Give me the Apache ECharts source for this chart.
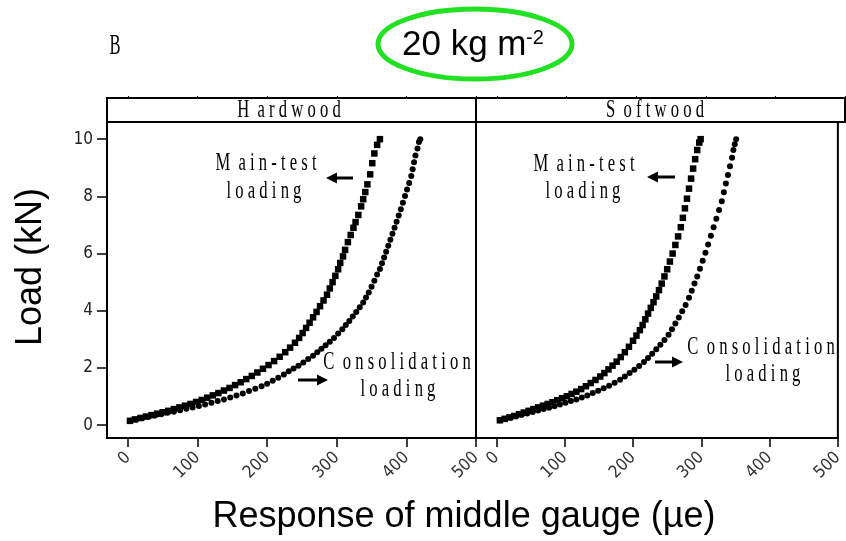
<!DOCTYPE html>
<html>
<head>
<meta charset="utf-8">
<title>20 kg m-2</title>
<script src="https://cdn.jsdelivr.net/npm/echarts@6/dist/echarts.min.js"></script>
<style>
  html, body { margin: 0; padding: 0; background: #fff; }
  #chart { width: 846px; height: 541px; }
</style>
</head>
<body>
<div id="chart"></div>
<script>
// tick labels
const xTicks = [0, 100, 200, 300, 400, 500];
const yTicks = [0, 2, 4, 6, 8, 10];
const panels = ['Hardwood', 'Softwood'];

// [response (µe), load (kN)]
const hardwoodMain = [
  [3, 0.15], [10, 0.2], [18, 0.25], [26, 0.3], [34, 0.35], [42, 0.4], [50, 0.45], [58, 0.5],
  [66, 0.56], [74, 0.62], [82, 0.68], [90, 0.74], [98, 0.81], [106, 0.88], [114, 0.96], [122, 1.04],
  [130, 1.12], [138, 1.21], [146, 1.3], [154, 1.4], [162, 1.5], [170, 1.61], [178, 1.72], [186, 1.84],
  [194, 1.97], [202, 2.1], [210, 2.24], [218, 2.39], [226, 2.55], [233, 2.71], [240, 2.88], [246, 3.05],
  [251, 3.22], [256, 3.4], [261, 3.58], [266, 3.77], [271, 3.96], [276, 4.16], [281, 4.36], [286, 4.56],
  [290, 4.78], [294, 5.0], [298, 5.22], [302, 5.45], [305, 5.67], [309, 5.9], [312, 6.13], [316, 6.4],
  [320, 6.65], [324, 6.9], [327, 7.1], [331, 7.35], [335, 7.65], [338, 7.9], [341, 8.15], [344, 8.42],
  [348, 8.77], [351, 9.16], [354, 9.5], [358, 9.8], [362, 10.0]
];
const hardwoodConsol = [
  [3, 0.15], [12, 0.2], [21, 0.25], [30, 0.29], [39, 0.34], [48, 0.38], [57, 0.43], [66, 0.47],
  [75, 0.52], [84, 0.57], [93, 0.62], [102, 0.67], [111, 0.72], [120, 0.78], [129, 0.84], [138, 0.9],
  [147, 0.97], [156, 1.04], [165, 1.11], [174, 1.19], [183, 1.27], [192, 1.36], [200, 1.45], [208, 1.55],
  [216, 1.66], [224, 1.77], [231, 1.88], [238, 1.98], [245, 2.08], [252, 2.19], [259, 2.31], [266, 2.43],
  [272, 2.55], [278, 2.67], [284, 2.79], [290, 2.92], [296, 3.05], [302, 3.2], [308, 3.35], [313, 3.5],
  [318, 3.64], [323, 3.8], [328, 3.96], [333, 4.12], [338, 4.29], [342, 4.46], [346, 4.64], [350, 4.84],
  [354, 5.05], [358, 5.27], [362, 5.46], [365, 5.66], [368, 5.86], [371, 6.06], [374, 6.27], [377, 6.48],
  [380, 6.69], [383, 6.9], [386, 7.11], [389, 7.33], [392, 7.55], [395, 7.78], [398, 8.01], [401, 8.24],
  [404, 8.47], [407, 8.71], [409, 8.95], [411, 9.19], [413, 9.43], [416, 9.67], [418, 9.9], [420, 10.0]
];
const softwoodMain = [
  [5, 0.17], [12, 0.22], [19, 0.27], [26, 0.32], [33, 0.38], [40, 0.44], [47, 0.5], [54, 0.56],
  [61, 0.62], [68, 0.68], [75, 0.74], [82, 0.8], [89, 0.87], [96, 0.94], [103, 1.01], [110, 1.09],
  [117, 1.17], [124, 1.26], [131, 1.36], [138, 1.47], [145, 1.58], [152, 1.7], [158, 1.82], [164, 1.95],
  [170, 2.08], [176, 2.22], [182, 2.38], [188, 2.55], [194, 2.74], [200, 2.95], [205, 3.13], [210, 3.32],
  [214, 3.5], [218, 3.7], [222, 3.9], [226, 4.1], [230, 4.3], [234, 4.5], [238, 4.72], [242, 4.95],
  [246, 5.2], [250, 5.45], [254, 5.72], [258, 6.0], [262, 6.3], [266, 6.6], [270, 6.92], [273, 7.25],
  [276, 7.58], [279, 7.92], [282, 8.27], [285, 8.62], [288, 8.97], [291, 9.3], [294, 9.62], [297, 9.88],
  [299, 10.0]
];
const softwoodConsol = [
  [5, 0.17], [13, 0.22], [21, 0.27], [29, 0.31], [37, 0.36], [45, 0.41], [53, 0.46], [61, 0.51],
  [69, 0.56], [77, 0.61], [85, 0.66], [93, 0.72], [101, 0.78], [109, 0.84], [117, 0.9], [125, 0.97],
  [133, 1.04], [141, 1.12], [149, 1.2], [157, 1.29], [165, 1.38], [173, 1.48], [181, 1.59], [188, 1.7],
  [195, 1.82], [202, 1.94], [209, 2.07], [216, 2.21], [222, 2.35], [228, 2.5], [234, 2.65], [240, 2.81],
  [246, 2.98], [252, 3.16], [257, 3.35], [262, 3.55], [267, 3.76], [272, 3.98], [277, 4.2], [282, 4.45],
  [286, 4.7], [290, 4.95], [294, 5.2], [298, 5.47], [302, 5.75], [306, 6.03], [310, 6.32], [314, 6.62],
  [318, 6.92], [322, 7.22], [326, 7.52], [330, 7.83], [333, 8.14], [336, 8.45], [339, 8.75], [342, 9.05],
  [345, 9.35], [347, 9.62], [349, 9.82], [351, 10.0]
];

const NARROW = "'Liberation Sans Narrow', 'DejaVu Sans Condensed', 'Liberation Sans', sans-serif";
const SERIF = "'Liberation Serif', 'DejaVu Serif', serif";
const SANS = "'Liberation Sans', Arial, sans-serif";

const chart = echarts.init(document.getElementById('chart'), null, { renderer: 'canvas' });

// panel boxes: data area + strip header on top
const PANEL_W = 369;
const panelLeft = [107, 476];
const boxStyle = { show: true, borderColor: '#000', borderWidth: 2, backgroundColor: 'transparent' };

const grids = [];
const xAxes = [];
const yAxes = [];
panelLeft.forEach((left, i) => {
  grids.push(Object.assign({ left, top: 122, width: PANEL_W, height: 316 }, boxStyle));
  xAxes.push({
    type: 'value', gridIndex: i * 2, min: -30, max: 500, position: 'bottom',
    axisLine: { show: false, onZero: false },
    axisTick: { show: true, length: 9, lineStyle: { color: '#000', width: 1.5 }, customValues: xTicks },
    axisLabel: {
      customValues: xTicks, rotate: 45, margin: 17,
      fontFamily: NARROW, fontSize: 17, color: '#333'
    },
    splitLine: { show: false }
  });
  yAxes.push({
    type: 'value', gridIndex: i * 2, min: -0.45, max: 10.6, position: 'left',
    axisLine: { show: false, onZero: false },
    axisTick: { show: i === 0, length: 10, lineStyle: { color: '#000', width: 1.5 }, customValues: yTicks },
    axisLabel: {
      show: i === 0, customValues: yTicks, margin: 14,
      fontFamily: NARROW, fontSize: 17, color: '#222'
    },
    splitLine: { show: false }
  });

  // strip header
  grids.push(Object.assign({ left, top: 98, width: PANEL_W, height: 24 }, boxStyle));
  xAxes.push({
    type: 'value', gridIndex: i * 2 + 1, min: -30, max: 500, position: 'top',
    axisLine: { show: false, onZero: false },
    axisTick: { show: true, length: 2, lineStyle: { color: '#000', width: 1 }, customValues: xTicks },
    axisLabel: { show: false },
    splitLine: { show: false }
  });
  yAxes.push({ type: 'value', gridIndex: i * 2 + 1, min: 0, max: 1, show: false });
});

const dots = (data, axisIdx, symbol, size) => ({
  type: 'scatter',
  xAxisIndex: axisIdx,
  yAxisIndex: axisIdx,
  data,
  symbol,
  symbolSize: size,
  itemStyle: { color: '#000', opacity: 1 },
  silent: true
});

// condensed, letter-spaced annotation text
const label = (text, x, y, size) => ({
  type: 'text', x, y, scaleX: 0.64, silent: true,
  style: { text, font: `${size || 26}px ${SERIF}`, fill: '#000', align: 'center', verticalAlign: 'middle' }
});
const arrow = (tail, tip, y) => {
  const dir = tip > tail ? 1 : -1;
  return [
    { type: 'line', silent: true, shape: { x1: tail, y1: y, x2: tip - dir * 8, y2: y }, style: { stroke: '#000', lineWidth: 3 } },
    { type: 'polygon', silent: true, shape: { points: [[tip, y], [tip - dir * 11, y - 5.5], [tip - dir * 11, y + 5.5]] }, style: { fill: '#000' } }
  ];
};

const option = {
  animation: false,
  backgroundColor: '#fff',
  grid: grids,
  xAxis: xAxes,
  yAxis: yAxes,
  series: [
    dots(hardwoodMain, 0, 'rect', 6.5),
    dots(hardwoodConsol, 0, 'circle', 6),
    dots(softwoodMain, 2, 'rect', 6.5),
    dots(softwoodConsol, 2, 'circle', 6)
  ],
  graphic: [
    // panel letter and the circled load
    { type: 'text', x: 115, y: 46, scaleX: 0.55, silent: true,
      style: { text: 'B', font: `30px ${SERIF}`, fill: '#000', align: 'center', verticalAlign: 'middle' } },
    { type: 'ellipse', silent: true, shape: { cx: 475, cy: 44, rx: 97, ry: 35 },
      style: { fill: 'none', stroke: '#22e022', lineWidth: 5 } },
    { type: 'text', x: 402, y: 45, silent: true,
      style: { text: '20 kg m', font: `35px ${SANS}`, fill: '#000', align: 'left', verticalAlign: 'middle' } },
    { type: 'text', x: 526, y: 38, silent: true,
      style: { text: '-2', font: `20px ${SANS}`, fill: '#000', align: 'left', verticalAlign: 'middle' } },

    // strip titles
    label('H  a r d w o o d', 289, 110),
    label('S  o f t w o o d', 655, 110),

    // annotations, hardwood
    label('M  a i n - t e s t', 266, 163),
    label('l o a d i n g', 264, 191),
    ...arrow(353, 326, 178),
    label('C  o n s o l i d a t i o n', 397, 362),
    label('l o a d i n g', 398, 389),
    ...arrow(298, 328, 380),

    // annotations, softwood
    label('M  a i n - t e s t', 584, 164),
    label('l o a d i n g', 583, 191),
    ...arrow(675, 647, 177),
    label('C  o n s o l i d a t i o n', 761, 347),
    label('l o a d i n g', 763, 374),
    ...arrow(655, 683, 362),

    // axis titles
    { type: 'text', x: 31, y: 267, rotation: Math.PI / 2, silent: true,
      style: { text: 'Load (kN)', font: `36px ${SANS}`, fill: '#000', align: 'center', verticalAlign: 'middle' } },
    { type: 'text', x: 464, y: 517, silent: true,
      style: { text: 'Response of middle gauge (µe)', font: `36px ${SANS}`, fill: '#000', align: 'center', verticalAlign: 'middle' } }
  ]
};

chart.setOption(option);
</script>
</body>
</html>
